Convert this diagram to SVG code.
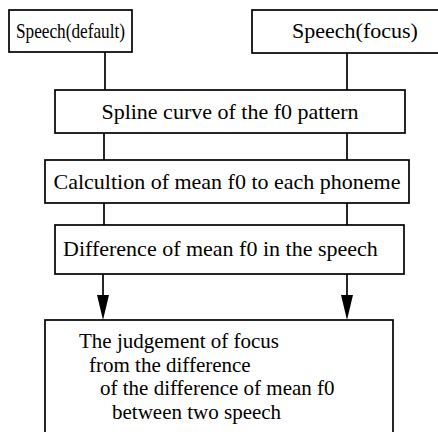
<svg xmlns="http://www.w3.org/2000/svg" width="438" height="432" viewBox="0 0 438 432">
<style>
.box{fill:#fff;stroke:#000;stroke-width:1.7}
.t{font-family:"Liberation Serif","Times New Roman",serif;font-size:22px;fill:#000}
.s{font-size:21px}
.c{text-anchor:middle}
.ln{stroke:#000;stroke-width:1.7;fill:none}
.ah{fill:#000}
</style>
<rect width="438" height="432" fill="#fff"/>
<g id="connectors">
<line class="ln" x1="105" y1="52" x2="105" y2="90"/>
<line class="ln" x1="347" y1="52" x2="347" y2="90"/>
<line class="ln" x1="104" y1="133" x2="104" y2="160"/>
<line class="ln" x1="347" y1="133" x2="347" y2="160"/>
<line class="ln" x1="104" y1="203" x2="104" y2="225"/>
<line class="ln" x1="347" y1="203" x2="347" y2="225"/>
<line class="ln" x1="103" y1="274" x2="103" y2="298"/>
<path class="ah" d="M97,295 L109,295 L103,320 Z"/>
<line class="ln" x1="347" y1="274" x2="347" y2="298"/>
<path class="ah" d="M341,295 L353,295 L347,320 Z"/>
</g>
<g id="speech-default">
<rect class="box" x="9" y="10" width="123" height="42"/>
<text class="t" x="16" y="38" font-size="20" textLength="109" lengthAdjust="spacingAndGlyphs">Speech(default)</text>
</g>
<g id="speech-focus">
<rect class="box" x="252" y="10" width="200" height="43"/>
<text class="t c" x="355" y="38">Speech(focus)</text>
</g>
<g id="spline">
<rect class="box" x="55" y="90" width="350" height="43"/>
<text class="t c" x="230" y="119">Spline curve of the f0 pattern</text>
</g>
<g id="calc">
<rect class="box" x="45" y="160" width="364" height="43"/>
<text class="t c" x="227" y="189">Calcultion of mean f0 to each phoneme</text>
</g>
<g id="diff">
<rect class="box" x="55" y="225" width="349" height="49"/>
<text class="t" x="63" y="256">Difference of mean f0 in the speech</text>
</g>
<g id="judgement">
<rect class="box" x="45" y="320" width="348" height="130"/>
<text class="t s" x="79" y="348">The judgement of focus</text>
<text class="t s" x="89" y="371.5">from the difference</text>
<text class="t s" x="100" y="395">of the difference of mean f0</text>
<text class="t s" x="112" y="418.5">between two speech</text>
</g>
</svg>
